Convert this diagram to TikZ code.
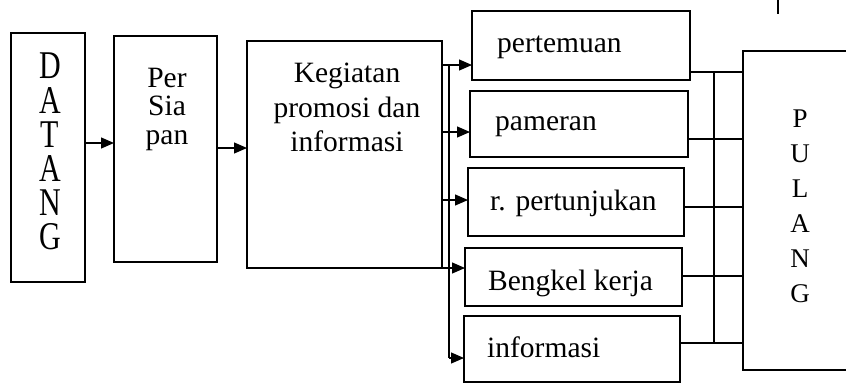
\documentclass[tikz,border=0pt]{standalone}
\usepackage{fontspec}
\usepackage{graphicx}
\setmainfont{Liberation Serif}
\usetikzlibrary{arrows.meta}
\begin{document}
\begin{tikzpicture}[x=1pt,y=-1pt,
  box/.style={draw, line width=1.2pt, inner sep=0pt, outer sep=0pt},
  arr/.style={line width=1.2pt, -{Triangle[length=13pt,width=11pt]}},
  ln/.style={line width=1.2pt},
  txt/.style={inner sep=0pt, font=\fontsize{29.5}{34.5}\selectfont},
  tall/.style={inner sep=0pt, align=center, font=\fontsize{30}{34.2}\selectfont}]
\clip (0,0) rectangle (846,383);
\fill[white] (0,0) rectangle (846,383);
% boxes
\node[box, minimum width=74pt, minimum height=249pt] (dat) at (48,157.5) {};
\node[box, minimum width=103pt, minimum height=226pt] (per) at (165.5,149) {};
\node[box, minimum width=195pt, minimum height=227pt] (keg) at (344.5,154.5) {};
\node[box, minimum width=218pt, minimum height=69pt] (b1) at (581,45.5) {};
\node[box, minimum width=218pt, minimum height=66pt] (b2) at (579,124) {};
\node[box, minimum width=216pt, minimum height=68pt] (b3) at (576,202) {};
\node[box, minimum width=217pt, minimum height=58pt] (b4) at (573.5,277) {};
\node[box, minimum width=216pt, minimum height=66pt] (b5) at (572,349) {};
\node[box, minimum width=207pt, minimum height=319pt] (pul) at (846.5,210.5) {};
% texts
\node[tall, anchor=north] (tdat) at (50,53) {\scalebox{1}[1.31]{D}\\\scalebox{1}[1.31]{A}\\\scalebox{1}[1.31]{T}\\\scalebox{1}[1.31]{A}\\\scalebox{1}[1.31]{N}\\\scalebox{1}[1.31]{G}};
\node[txt, align=center, anchor=north, font=\fontsize{29.5}{28.5}\selectfont] (tper) at (167,67.5) {Per\\Sia\\pan};
\node[txt, align=center, anchor=north] (tkeg) at (347,63) {Kegiatan\\promosi dan\\informasi};
\node[txt, anchor=base west] (t1) at (497,52) {pertemuan};
\node[txt, anchor=base west] (t2) at (495,130) {pameran};
\node[txt, anchor=base west] (t3) at (490,210) {r. pertunjukan};
\node[txt, anchor=base west] (t4) at (488,290) {Bengkel kerja};
\node[txt, anchor=base west] (t5) at (487,357) {informasi};
\node[inner sep=0pt, align=center, anchor=north, font=\fontsize{27}{35}\selectfont] (tpul) at (800,110) {P\\U\\L\\A\\N\\G};
% left connectors
\draw[arr] (dat.east |- 0,143) -- (per.west |- 0,143);
\draw[arr] (per.east |- 0,148) -- (keg.west |- 0,148);
\coordinate (bt) at (449,65);
\coordinate (bb) at (449,358);
\draw[ln] (bt) -- (bb);
\draw[arr] (keg.east |- bt) -- (b1.west |- bt);
\draw[arr] (keg.east |- 0,132) -- (b2.west |- 0,132);
\draw[arr] (keg.east |- 0,200) -- (b3.west |- 0,200);
\draw[arr] (keg.east |- 0,268) -- (b4.west |- 0,268);
\draw[arr] (bb) -- (b5.west |- bb);
% right collector
\coordinate (ct) at (714,72);
\coordinate (cb) at (714,343);
\draw[ln] (ct) -- (cb);
\draw[ln] (b1.east |- ct) -- (pul.west |- ct);
\draw[ln] (b2.east |- 0,139) -- (pul.west |- 0,139);
\draw[ln] (b3.east |- 0,207) -- (pul.west |- 0,207);
\draw[ln] (b4.east |- 0,276) -- (pul.west |- 0,276);
\draw[ln] (b5.east |- cb) -- (pul.west |- cb);
% fragment at top
\coordinate (fa) at (778,0);
\coordinate (fb) at (778,14);
\draw[ln] (fa) -- (fb);
\end{tikzpicture}
\end{document}
